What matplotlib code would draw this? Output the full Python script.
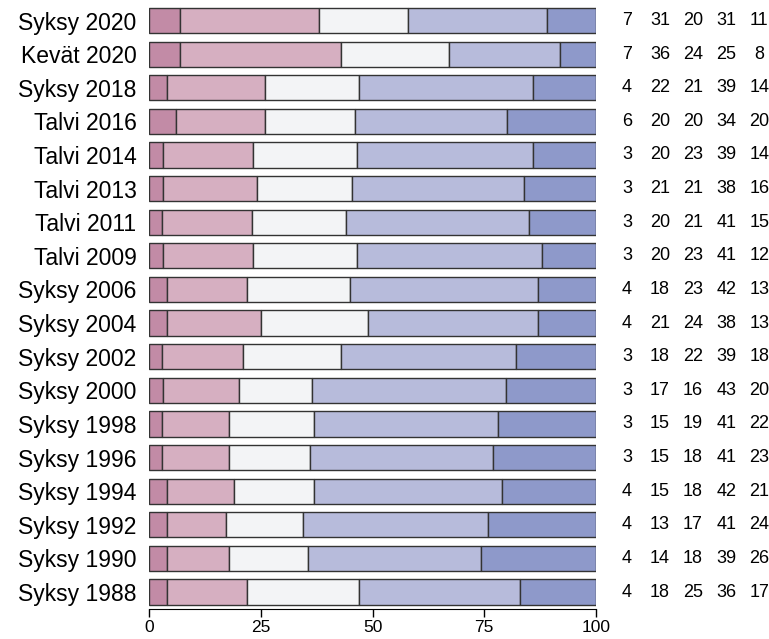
import numpy as np
import matplotlib
matplotlib.use("Agg")
import matplotlib.pyplot as plt

plt.rcParams['font.family'] = ['Liberation Sans', 'DejaVu Sans']

labels = ["Syksy 2020", "Kevät 2020", "Syksy 2018", "Talvi 2016", "Talvi 2014",
          "Talvi 2013", "Talvi 2011", "Talvi 2009", "Syksy 2006", "Syksy 2004",
          "Syksy 2002", "Syksy 2000", "Syksy 1998", "Syksy 1996", "Syksy 1994",
          "Syksy 1992", "Syksy 1990", "Syksy 1988"]

s1 = [7, 7, 4, 6, 3, 3, 3, 3, 4, 4, 3, 3, 3, 3, 4, 4, 4, 4]
s2 = [31, 36, 22, 20, 20, 21, 20, 20, 18, 21, 18, 17, 15, 15, 15, 13, 14, 18]
s3 = [20, 24, 21, 20, 23, 21, 21, 23, 23, 24, 22, 16, 19, 18, 18, 17, 18, 25]
s4 = [31, 25, 39, 34, 39, 38, 41, 41, 42, 38, 39, 43, 41, 41, 42, 41, 39, 36]
s5 = [11, 8, 14, 20, 14, 16, 15, 12, 13, 13, 18, 20, 22, 23, 21, 24, 26, 17]

colors = ["#c28ba6", "#d6afc1", "#f3f4f6", "#b7bbdb", "#8e99ca"]

series = [s1, s2, s3, s4, s5]
vals = np.array(series, dtype=float)
# bars are drawn as shares of the row total
shares = vals / vals.sum(axis=0) * 100

n = len(labels)
y = np.arange(n)[::-1]

fig = plt.figure(figsize=(7.69, 6.39), dpi=100)
ax = fig.add_axes([0.1938, 0.0469, 0.5813, 0.9452])

left = np.zeros(n)
for i in range(5):
    ax.barh(y, shares[i], left=left, height=0.75, color=colors[i],
            edgecolor="#333333", linewidth=1.0)
    left += shares[i]

# numbers on the right
xcols = [106.9, 114.3, 121.7, 129.1, 136.5]
for i in range(5):
    for j in range(n):
        ax.text(xcols[i], y[j], str(series[i][j]), ha="center", va="center",
                fontsize=13, clip_on=False)

ax.set_xlim(0, 100)
ax.set_ylim(-0.506, n - 1 + 0.46)
ax.set_yticks(y)
ax.set_yticklabels(labels, fontsize=16.5)
ax.tick_params(axis="y", length=0, pad=9)
ax.set_xticks([0, 25, 50, 75, 100])
ax.tick_params(axis="x", length=6, width=1, labelsize=12.5, pad=2)
for sp in ["top", "right", "left"]:
    ax.spines[sp].set_visible(False)
ax.spines["bottom"].set_bounds(0, 100)

fig.savefig("out.png", dpi=100)
